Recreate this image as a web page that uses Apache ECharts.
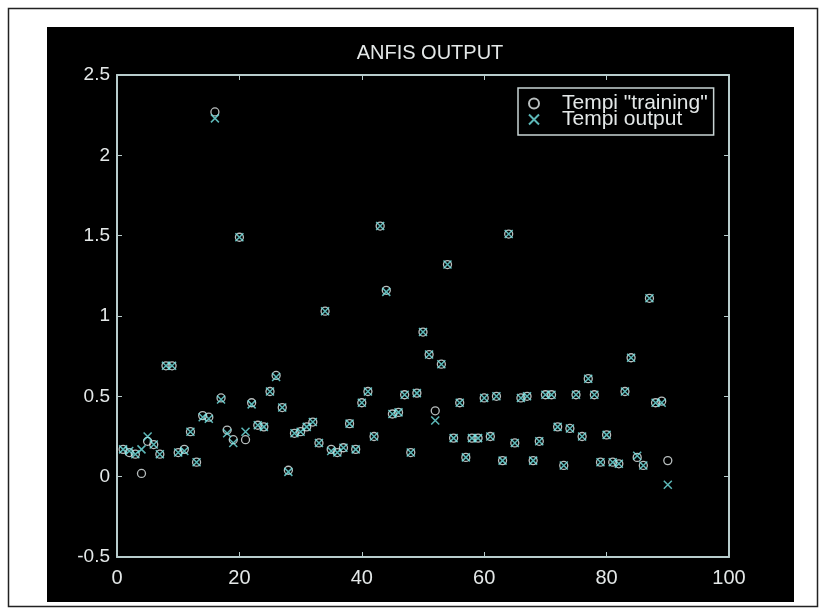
<!DOCTYPE html>
<html>
<head>
<meta charset="utf-8">
<script src="https://cdn.jsdelivr.net/npm/echarts@6/dist/echarts.min.js"></script>
<style>
html,body{margin:0;padding:0;background:#fff;}
#chart{width:825px;height:613px;}
</style>
</head>
<body>
<div id="chart"></div>
<script>
var xIndex = [];
for (var i = 1; i <= 90; i++) xIndex.push(i);

var trainingValues = [
  0.17, 0.15, 0.14, 0.02, 0.22, 0.20, 0.14, 0.69, 0.69, 0.15,
  0.17, 0.28, 0.09, 0.38, 0.37, 2.27, 0.49, 0.29, 0.23, 1.49,
  0.23, 0.46, 0.32, 0.31, 0.53, 0.63, 0.43, 0.04, 0.27, 0.28,
  0.31, 0.34, 0.21, 1.03, 0.17, 0.15, 0.18, 0.33, 0.17, 0.46,
  0.53, 0.25, 1.56, 1.16, 0.39, 0.40, 0.51, 0.15, 0.52, 0.90,
  0.76, 0.41, 0.70, 1.32, 0.24, 0.46, 0.12, 0.24, 0.24, 0.49,
  0.25, 0.50, 0.10, 1.51, 0.21, 0.49, 0.50, 0.10, 0.22, 0.51,
  0.51, 0.31, 0.07, 0.30, 0.51, 0.25, 0.61, 0.51, 0.09, 0.26,
  0.09, 0.08, 0.53, 0.74, 0.12, 0.07, 1.11, 0.46, 0.47, 0.10
];

var outputValues = [
  0.17, 0.16, 0.14, 0.17, 0.25, 0.20, 0.14, 0.69, 0.69, 0.15,
  0.16, 0.28, 0.09, 0.37, 0.36, 2.23, 0.48, 0.27, 0.21, 1.49,
  0.28, 0.45, 0.32, 0.31, 0.53, 0.62, 0.43, 0.03, 0.27, 0.28,
  0.31, 0.34, 0.21, 1.03, 0.16, 0.15, 0.18, 0.33, 0.17, 0.46,
  0.53, 0.25, 1.56, 1.15, 0.39, 0.40, 0.51, 0.15, 0.52, 0.90,
  0.76, 0.35, 0.70, 1.32, 0.24, 0.46, 0.12, 0.24, 0.24, 0.49,
  0.25, 0.50, 0.10, 1.51, 0.21, 0.49, 0.50, 0.10, 0.22, 0.51,
  0.51, 0.31, 0.07, 0.30, 0.51, 0.25, 0.61, 0.51, 0.09, 0.26,
  0.09, 0.08, 0.53, 0.74, 0.13, 0.07, 1.11, 0.46, 0.46, -0.05
];

var xTicks = [0, 20, 40, 60, 80, 100];
var yTicks = [-0.5, 0, 0.5, 1, 1.5, 2, 2.5];

var titleText = 'ANFIS OUTPUT';
var seriesNames = ['Tempi "training"', 'Tempi output'];

function pairs(xs, ys) {
  return xs.map(function (x, i) { return [x, ys[i]]; });
}

var axisCol = '#b8cccc';
var textCol = '#e4e8e8';
var font = 'Liberation Sans, Arial, sans-serif';

var chart = echarts.init(document.getElementById('chart'));
chart.setOption({
  backgroundColor: '#ffffff',
  animation: false,
  graphic: [
    { type: 'rect', shape: { x: 8.5, y: 8.5, width: 809, height: 598 }, style: { fill: 'none', stroke: '#222', lineWidth: 1.5 }, z: -10 },
    { type: 'rect', shape: { x: 47, y: 27, width: 747, height: 575 }, style: { fill: '#000' }, z: -9 }
  ],
  title: {
    text: titleText,
    left: 425, top: 38, textAlign: 'center',
    textStyle: { color: textCol, fontSize: 20, fontWeight: 'normal', fontFamily: font }
  },
  legend: {
    orient: 'vertical',
    left: 518, top: 88,
    padding: [5, 6, 5, 10],
    itemGap: -5,
    itemWidth: 10, itemHeight: 10,
    backgroundColor: '#000',
    borderColor: '#c8d4d4', borderWidth: 1.5,
    textStyle: { color: textCol, fontSize: 21, lineHeight: 17, fontFamily: font, padding: [0, 0, 0, 18] },
    data: seriesNames
  },
  grid: { left: 117, top: 75, right: 96, bottom: 56, containLabel: false },
  xAxis: [{
    type: 'value', min: 0, max: 100, interval: 20,
    axisLine: { onZero: false, lineStyle: { color: axisCol, width: 2 } },
    axisTick: { inside: true, length: 5, lineStyle: { color: axisCol } },
    axisLabel: { color: textCol, fontSize: 20, fontFamily: font, margin: 11,
      formatter: function (v) { return xTicks.indexOf(v) >= 0 ? String(v) : ''; } },
    splitLine: { show: false }
  }, {
    type: 'value', position: 'top', min: 0, max: 100, interval: 20,
    axisLine: { show: true, onZero: false, lineStyle: { color: axisCol, width: 2 } },
    axisTick: { inside: true, length: 5, lineStyle: { color: axisCol } },
    axisLabel: { show: false }, splitLine: { show: false }
  }],
  yAxis: [{
    type: 'value', min: -0.5, max: 2.5, interval: 0.5,
    axisLine: { show: true, onZero: false, lineStyle: { color: axisCol, width: 2 } },
    axisTick: { show: true, inside: true, length: 5, lineStyle: { color: axisCol } },
    axisLabel: { color: textCol, fontSize: 19, fontFamily: font, margin: 7,
      formatter: function (v) { return yTicks.indexOf(v) >= 0 ? String(v) : ''; } },
    splitLine: { show: false }
  }, {
    type: 'value', position: 'right', min: -0.5, max: 2.5, interval: 0.5,
    axisLine: { show: true, onZero: false, lineStyle: { color: axisCol, width: 2 } },
    axisTick: { show: true, inside: true, length: 5, lineStyle: { color: axisCol } },
    axisLabel: { show: false }, splitLine: { show: false }
  }],
  series: [{
    name: seriesNames[0],
    type: 'scatter',
    symbol: 'circle',
    symbolSize: 8,
    itemStyle: { color: 'rgba(0,0,0,0)', borderColor: '#e6eeee', borderWidth: 1.3 },
    data: pairs(xIndex, trainingValues),
    z: 3
  }, {
    name: seriesNames[1],
    type: 'scatter',
    symbol: 'path://M0,0L10,10M10,0L0,10',
    symbolSize: 8,
    itemStyle: { color: 'rgba(0,0,0,0)', borderColor: '#74e6e6', borderWidth: 1.5 },
    data: pairs(xIndex, outputValues),
    z: 4
  }]
});
</script>
</body>
</html>
